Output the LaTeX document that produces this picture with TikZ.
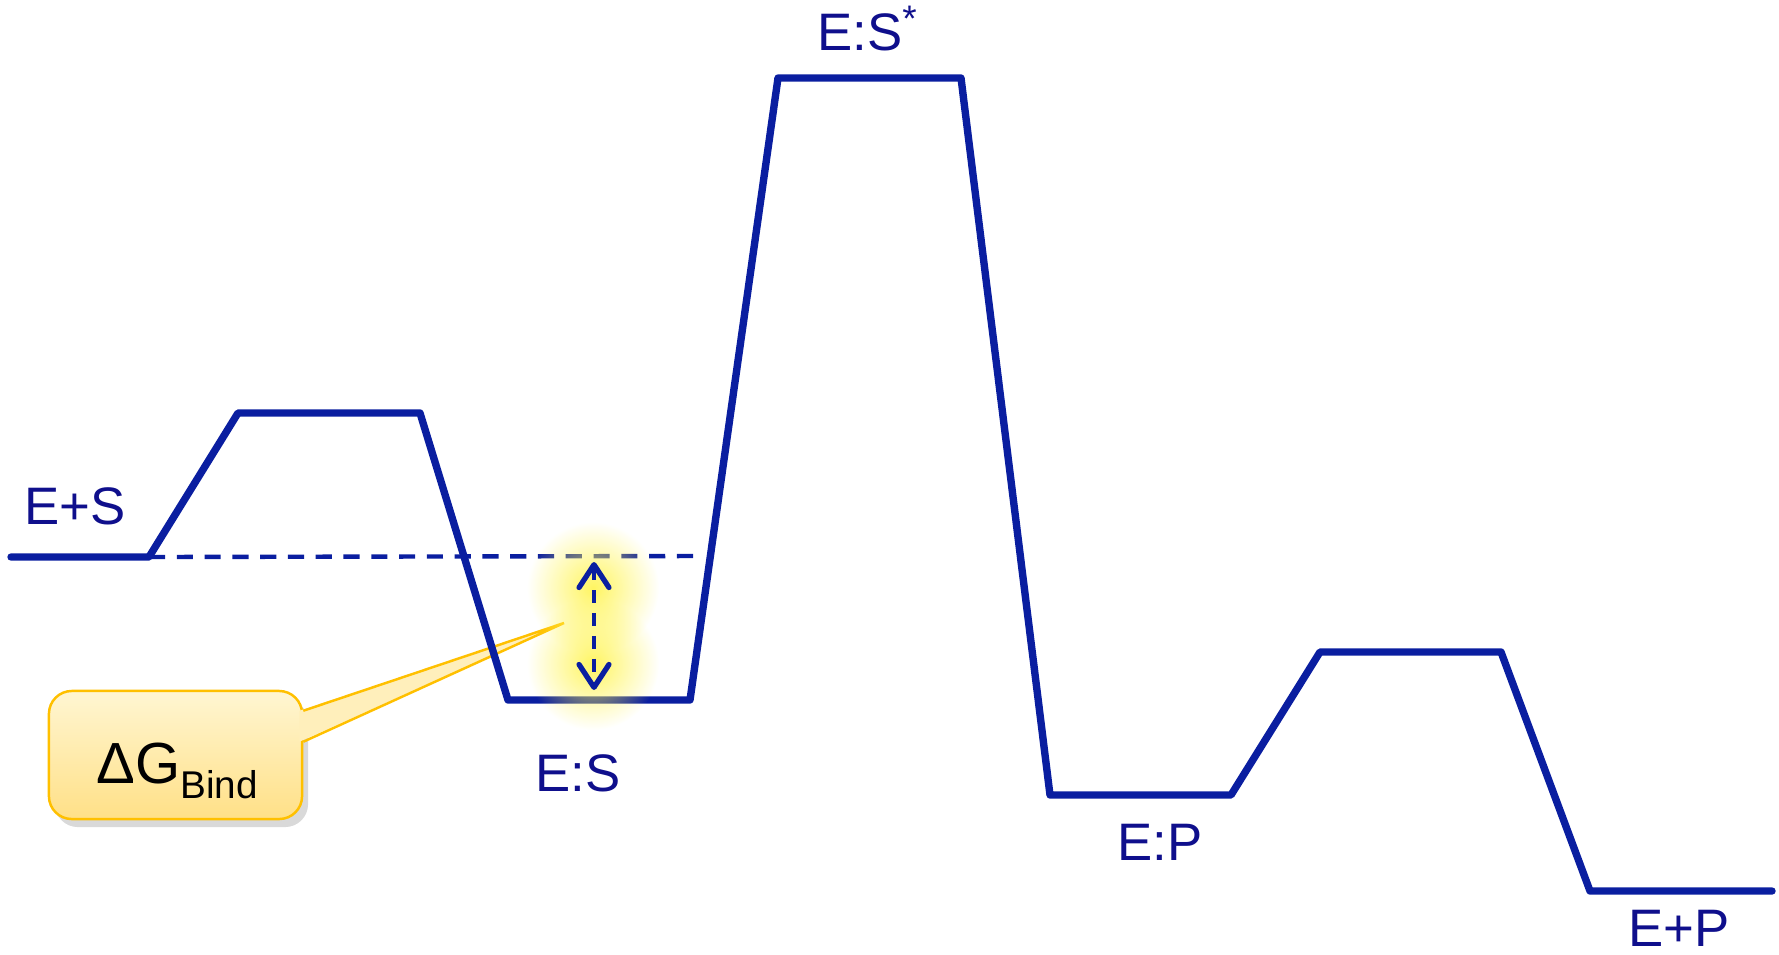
\documentclass[tikz,border=0pt]{standalone}
\usepackage{fontspec}
\setmainfont{Liberation Sans}
\usetikzlibrary{arrows.meta, shadows, fadings, calc}
\definecolor{levelblue}{RGB}{10, 30, 160}
\definecolor{labelnavy}{RGB}{15, 15, 140}
\definecolor{calloutgold}{RGB}{255, 192, 0}
\definecolor{callouttop}{RGB}{255, 246, 210}
\definecolor{calloutbottom}{RGB}{255, 224, 135}
\definecolor{glowyellow}{RGB}{255, 244, 80}
\colorlet{calloutmid}{callouttop!70!calloutbottom}
\tikzfading[name=glowfade, inner color=transparent!10, outer color=transparent!100]

\begin{document}
\begin{tikzpicture}[x=0.01cm, y=-0.01cm,
    level/.style={draw=levelblue, line width=2.1pt, line join=round, line cap=round},
    guide/.style={draw=levelblue, line width=1.25pt, dash pattern=on 4.6pt off 3.3pt},
    tag/.style={text=labelnavy, font=\fontsize{15}{18}\selectfont, inner sep=0pt, anchor=base},
    glow/.style={fill=glowyellow, path fading=glowfade},
    bubble/.style={draw=calloutgold, line width=0.7pt, rounded corners=6.5pt, top color=callouttop, bottom color=calloutbottom, minimum width=2.53cm, minimum height=1.28cm, drop shadow={opacity=0.3, shadow xshift=0.06cm, shadow yshift=-0.08cm}}
]
    \useasboundingbox (0,0) rectangle (1779,954);

    % Callout
    \node[bubble] (bind) at (175.5,755) {};
    \coordinate (tip) at (564,623);
    \fill[calloutmid] ($(bind.north east)+(-4,21)$) -- (tip) -- ($(bind.north east)+(-4,52)$) -- cycle;
    \draw[calloutgold, line width=0.7pt] ($(bind.north east)+(0,21)$) -- (tip) -- ($(bind.north east)+(0,52)$);
    \node[anchor=base] (bindlabel) at (177,783) {\fontsize{16.5}{20}\selectfont ΔG\raisebox{-4.3pt}{\fontsize{11}{13}\selectfont Bind}};

    % Levels
    \coordinate (es1) at (11,557);
    \coordinate (es2) at (149,557);
    \coordinate (b1a) at (238,413);
    \coordinate (b1b) at (420,413);
    \coordinate (cs1) at (508,700);
    \coordinate (cs2) at (690,700);
    \coordinate (ts1) at (778,78);
    \coordinate (ts2) at (961,78);
    \coordinate (cp1) at (1050,795);
    \coordinate (cp2) at (1231,795);
    \coordinate (b2a) at (1320,652);
    \coordinate (b2b) at (1501,652);
    \coordinate (ep1) at (1590,891);
    \coordinate (ep2) at (1772,891);
    \draw[level] (es1) -- (es2) -- (b1a) -- (b1b) -- (cs1) -- (cs2) -- (ts1) -- (ts2)
        -- (cp1) -- (cp2) -- (b2a) -- (b2b) -- (ep1) -- (ep2);

    % Binding gap
    \coordinate (guideend) at (701,556);
    \draw[guide] (es2) -- (guideend);
    \fill[glow] (593,588) circle (66);
    \fill[glow] (593,664) circle (66);
    \coordinate (gaptop) at (594,562);
    \coordinate (gapbot) at (594,690);
    \draw[guide, dash pattern=on 3.7pt off 2.8pt, >={Straight Barb[length=6.5pt, width=8.5pt, line width=1.5pt, round]}, <->] (gaptop) -- (gapbot);

    % Labels
    \node[tag] (eslabel) at (75,524) {E+S};
    \node[tag] (cslabel) at (578,791) {E:S};
    \node[tag] (tslabel) at (868,50) {E:S\textsuperscript{*}};
    \node[tag] (cplabel) at (1160,860) {E:P};
    \node[tag] (eplabel) at (1679,946) {E+P};
\end{tikzpicture}
\end{document}
